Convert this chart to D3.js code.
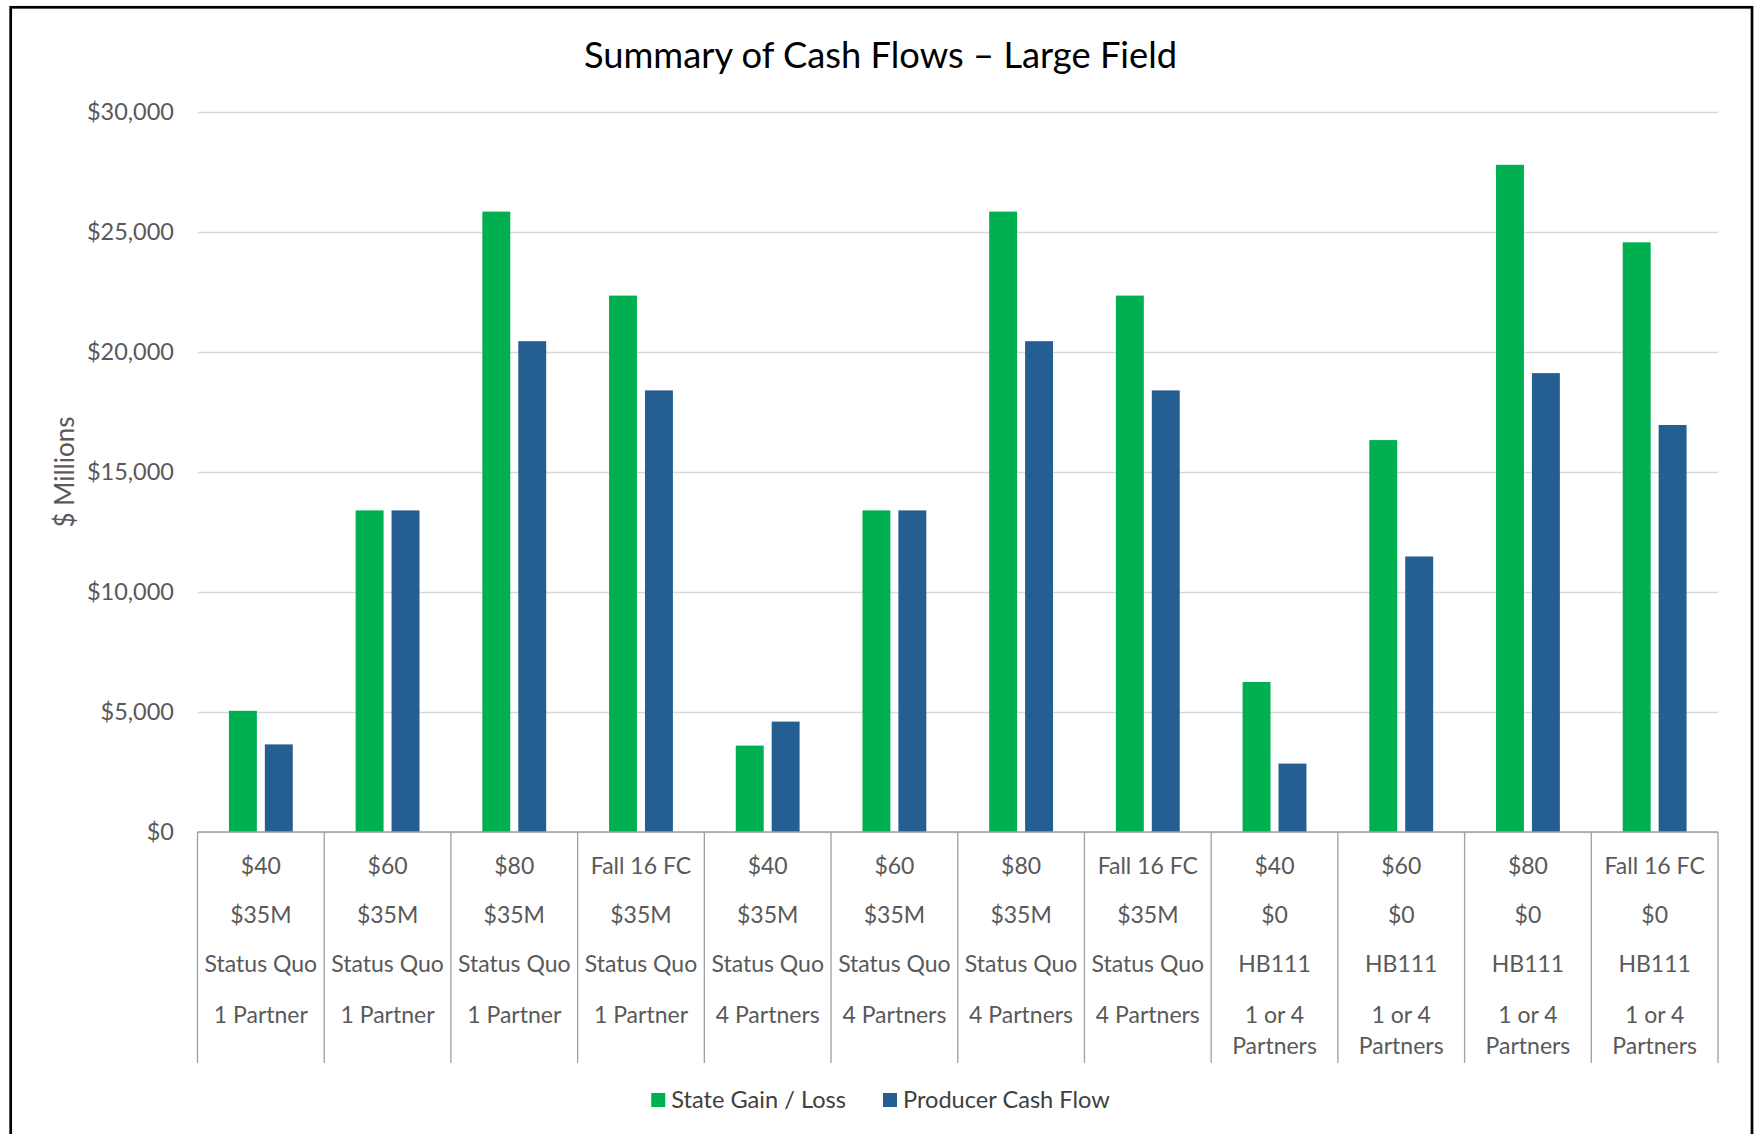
<!DOCTYPE html>
<html>
<head>
<meta charset="utf-8">
<script src="https://cdn.jsdelivr.net/npm/d3@7"></script>
<style>
  html, body { margin: 0; padding: 0; background: #fff; }
  svg { display: block; }
  text { font-family: Lato, "Open Sans", sans-serif; }
</style>
</head>
<body>
<svg id="chart" width="1754" height="1134"></svg>
<script>
// Scenario descriptors, one entry per column group
const priceLabels   = ["$40", "$60", "$80", "Fall 16 FC", "$40", "$60", "$80", "Fall 16 FC", "$40", "$60", "$80", "Fall 16 FC"];
const capLabels     = ["$35M", "$35M", "$35M", "$35M", "$35M", "$35M", "$35M", "$35M", "$0", "$0", "$0", "$0"];
const regimeLabels  = ["Status Quo", "Status Quo", "Status Quo", "Status Quo", "Status Quo", "Status Quo", "Status Quo", "Status Quo", "HB111", "HB111", "HB111", "HB111"];
const partnerLabels = ["1 Partner", "1 Partner", "1 Partner", "1 Partner", "4 Partners", "4 Partners", "4 Partners", "4 Partners", "1 or 4 Partners", "1 or 4 Partners", "1 or 4 Partners", "1 or 4 Partners"];

// Series values, $ millions
const seriesNames  = ["State Gain / Loss", "Producer Cash Flow"];
const stateGain    = [5050, 13400, 25850, 22350, 3600, 13400, 25850, 22350, 6250, 16330, 27800, 24570];
const producerCash = [3650, 13400, 20450, 18400, 4600, 13400, 20450, 18400, 2850, 11480, 19120, 16960];

const yTicks = [0, 5000, 10000, 15000, 20000, 25000, 30000];

const colors = { "State Gain / Loss": "#00B050", "Producer Cash Flow": "#255E91" };

const svg = d3.select("#chart");
const W = 1754, H = 1134;

// Chart frame
svg.append("rect")
  .attr("x", 10.7).attr("y", 7.3)
  .attr("width", 1752 - 10.7).attr("height", H + 10)
  .attr("fill", "#fff").attr("stroke", "#000").attr("stroke-width", 2.7);

const plot = { left: 197.5, right: 1718, top: 112, bottom: 832 };
const frameCenter = 880.5;

// Title
svg.append("text")
  .attr("x", frameCenter).attr("y", 68)
  .attr("text-anchor", "middle")
  .attr("font-size", 36.3)
  .attr("fill", "#000")
  .text("Summary of Cash Flows \u2013 Large Field");

const idx = d3.range(priceLabels.length);

const x0 = d3.scaleBand().domain(idx).range([plot.left, plot.right]).paddingInner(0).paddingOuter(0);
const x1 = d3.scaleBand().domain(seriesNames).range([0, x0.bandwidth()])
  .paddingInner(8 / 36).paddingOuter(0.875);
const y = d3.scaleLinear().domain([0, 30000]).range([plot.bottom, plot.top]);

// Y axis with gridlines
const yAxis = d3.axisLeft(y)
  .tickValues(yTicks)
  .tickSize(-(plot.right - plot.left))
  .tickPadding(23.5)
  .tickFormat(d => "$" + d3.format(",")(d));

const gy = svg.append("g")
  .attr("transform", `translate(${plot.left},0)`)
  .call(yAxis);
gy.select(".domain").remove();
gy.selectAll(".tick line").attr("stroke", "#d9d9d9").attr("stroke-width", 1.3);
gy.selectAll(".tick text")
  .attr("fill", "#595959")
  .attr("font-size", 23.5)
  .attr("font-family", "Lato, 'Open Sans', sans-serif");

// Y axis title
svg.append("text")
  .attr("transform", "translate(65,472) rotate(-90)")
  .attr("text-anchor", "middle")
  .attr("dy", "0.35em")
  .attr("font-size", 26)
  .attr("fill", "#595959")
  .text("$ Millions");

// Bars
const rows = idx.map(i => ({ i, values: [
  { key: seriesNames[0], value: stateGain[i] },
  { key: seriesNames[1], value: producerCash[i] }
]}));

const groups = svg.append("g").selectAll("g")
  .data(rows).join("g")
  .attr("transform", d => `translate(${x0(d.i)},0)`);

groups.selectAll("rect")
  .data(d => d.values).join("rect")
  .attr("x", d => x1(d.key))
  .attr("width", x1.bandwidth())
  .attr("y", d => y(d.value))
  .attr("height", d => y(0) - y(d.value))
  .attr("fill", d => colors[d.key]);

// Category axis: baseline and group dividers
const axisColor = "#a0a0a0";
const tableBottom = 1063;
svg.append("line")
  .attr("x1", plot.left).attr("x2", plot.right)
  .attr("y1", plot.bottom).attr("y2", plot.bottom)
  .attr("stroke", axisColor).attr("stroke-width", 1.3);

const edges = idx.map(i => x0(i)).concat([plot.right]);
svg.append("g").selectAll("line")
  .data(edges).join("line")
  .attr("x1", d => d).attr("x2", d => d)
  .attr("y1", plot.bottom).attr("y2", tableBottom)
  .attr("stroke", axisColor).attr("stroke-width", 1.3);

// Multi-line category labels
const labelRows = [priceLabels, capLabels, regimeLabels, partnerLabels];
const rowY = [866, 915, 964, 1015];
const wrapGap = 31;
const labelSize = 23;
const labelG = svg.append("g");

function wrapWords(text, maxW) {
  const probe = labelG.append("text").attr("font-size", labelSize);
  const words = text.split(" ");
  const lines = [];
  let line = [];
  for (const w of words) {
    const test = line.concat([w]).join(" ");
    probe.text(test);
    if (probe.node().getComputedTextLength() > maxW && line.length) {
      lines.push(line.join(" "));
      line = [w];
    } else {
      line.push(w);
    }
  }
  if (line.length) lines.push(line.join(" "));
  probe.remove();
  return lines;
}

idx.forEach(i => {
  const cx = x0(i) + x0.bandwidth() / 2;
  labelRows.forEach((arr, r) => {
    const lines = wrapWords(arr[i], x0.bandwidth() - 4);
    lines.forEach((ln, k) => {
      labelG.append("text")
        .attr("x", cx)
        .attr("y", rowY[r] + k * wrapGap)
        .attr("dy", "0.35em")
        .attr("text-anchor", "middle")
        .attr("font-size", labelSize)
        .attr("fill", "#595959")
        .text(ln);
    });
  });
});

// Legend, centred in the frame
const legend = svg.append("g");
const legendY = 1100;
const sw = 14, swGap = 6, itemGap = 37;
const items = seriesNames.map(name => {
  const g = legend.append("g");
  g.append("rect").attr("width", sw).attr("height", sw)
    .attr("y", legendY - sw / 2).attr("fill", colors[name]);
  const t = g.append("text")
    .attr("x", sw + swGap).attr("y", legendY).attr("dy", "0.35em")
    .attr("font-size", 23.6).attr("fill", "#404040").text(name);
  return { g, w: sw + swGap + t.node().getComputedTextLength() };
});
const totalW = d3.sum(items, d => d.w) + itemGap * (items.length - 1);
let lx = frameCenter - totalW / 2;
items.forEach(it => {
  it.g.attr("transform", `translate(${lx},0)`);
  lx += it.w + itemGap;
});
</script>
</body>
</html>
